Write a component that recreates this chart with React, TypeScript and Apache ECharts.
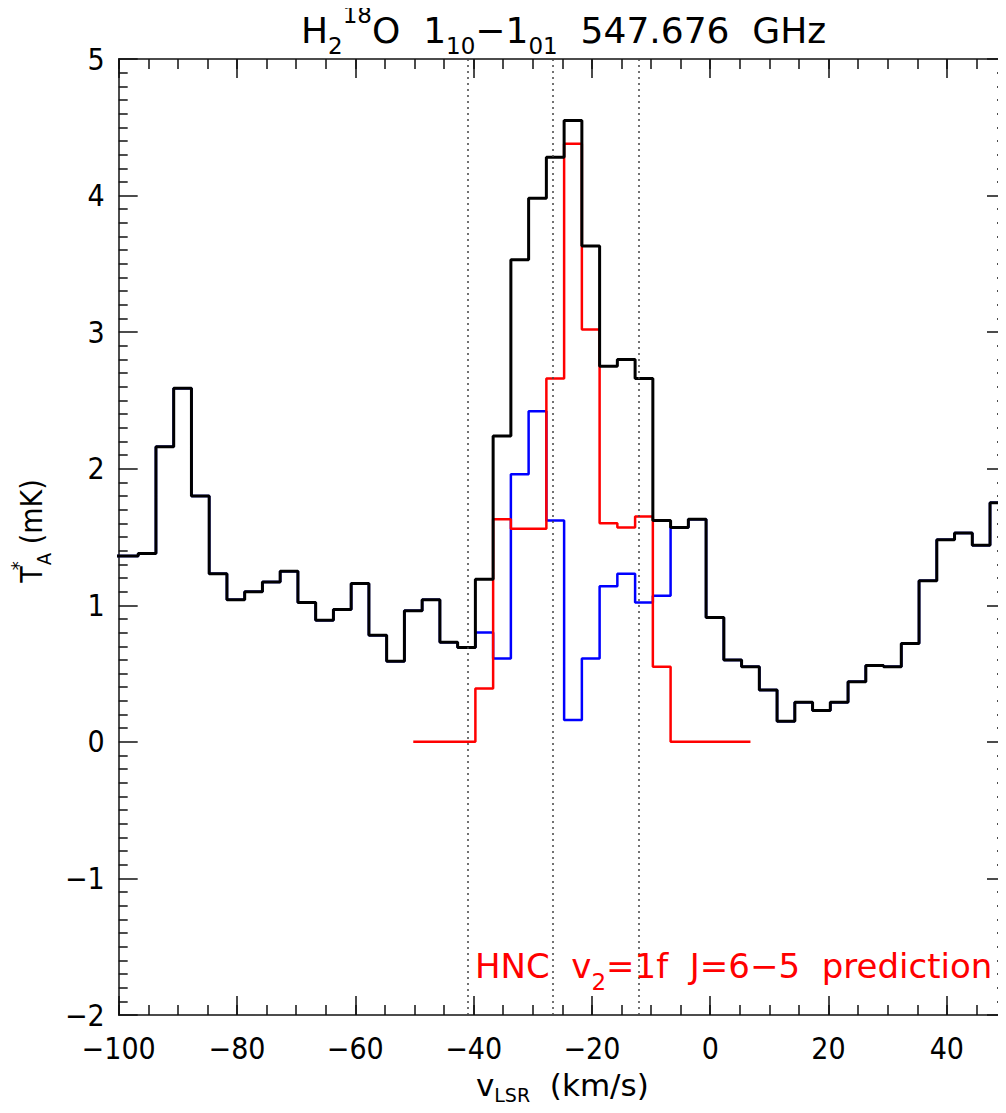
import React, { useEffect, useRef } from 'react';
import * as echarts from 'echarts';

// Channel centre velocities (km/s) of the observed spectrum
const velocity = [
  -101.2, -98.2, -95.2, -92.2, -89.2, -86.2, -83.2, -80.2, -77.2, -74.2,
  -71.2, -68.2, -65.2, -62.2, -59.2, -56.2, -53.2, -50.2, -47.2, -44.2,
  -41.2, -38.2, -35.2, -32.2, -29.2, -26.2, -23.2, -20.2, -17.2, -14.2,
  -11.2, -8.2, -5.2, -2.2, 0.8, 3.8, 6.8, 9.8, 12.8, 15.8,
  18.8, 21.8, 24.8, 27.8, 30.8, 33.8, 36.8, 39.8, 42.8, 45.8,
  48.8, 51.8,
];

// Observed H2 18O spectrum (black), mK
const observed = [
  1.36, 1.36, 1.38, 2.16, 2.59, 1.80, 1.23, 1.04, 1.10, 1.17,
  1.25, 1.02, 0.89, 0.97, 1.16, 0.78, 0.59, 0.96, 1.04, 0.73,
  0.69, 1.19, 2.24, 3.53, 3.98, 4.28, 4.55, 3.63, 2.75, 2.80,
  2.66, 1.62, 1.57, 1.63, 0.91, 0.60, 0.55, 0.38, 0.15, 0.29,
  0.23, 0.29, 0.44, 0.56, 0.55, 0.72, 1.18, 1.48, 1.53, 1.44,
  1.75, 1.75,
];

// Spectrum after removing the HNC prediction (blue), mK
const residual = [
  1.36, 1.36, 1.38, 2.16, 2.59, 1.80, 1.23, 1.04, 1.10, 1.17,
  1.25, 1.02, 0.89, 0.97, 1.16, 0.78, 0.59, 0.96, 1.04, 0.73,
  0.69, 0.80, 0.61, 1.96, 2.42, 1.62, 0.16, 0.61, 1.14, 1.23,
  1.02, 1.07, 1.57, 1.63, 0.91, 0.60, 0.55, 0.38, 0.15, 0.29,
  0.23, 0.29, 0.44, 0.56, 0.55, 0.72, 1.18, 1.48, 1.53, 1.44,
  1.75, 1.75,
];

// HNC v2=1f J=6-5 prediction (red)
const hncVelocity = [
  -50.2, -47.2, -44.2, -41.2, -38.2, -35.2, -32.2, -29.2, -26.2, -23.2,
  -20.2, -17.2, -14.2, -11.2, -8.2, -5.2, -2.2, 0.8, 3.8, 6.8,
];
const hncPrediction = [
  0, 0, 0, 0, 0.39, 1.63, 1.56, 1.56, 2.66, 4.38,
  3.02, 1.60, 1.57, 1.65, 0.55, 0, 0, 0, 0, 0,
];

// Dotted reference velocities
const componentVelocities = [-41.0, -26.56, -12.1];

const X_MIN = -100;
const X_MAX = 50;
const Y_MIN = -2;
const Y_MAX = 5;

const NARROW = "'DejaVu Sans Condensed', 'DejaVu Sans', sans-serif";
const WIDE = "'DejaVu Sans', sans-serif";
const MINUS = '\u2212';

function App() {
  const ref = useRef<HTMLDivElement>(null);

  useEffect(() => {
    if (!ref.current) return;
    const chart = echarts.init(ref.current, null, { renderer: 'svg' });

    const axisCol = '#111';
    const tickStyle = { color: axisCol, width: 1.5 };

    const xCommon = {
      type: 'value' as const,
      min: X_MIN,
      max: X_MAX,
      splitLine: { show: false },
    };
    const yCommon = {
      type: 'value' as const,
      min: Y_MIN,
      max: Y_MAX,
      interval: 1,
      splitLine: { show: false },
    };

    const txt = (font: string, size: number, lh: number, va: string, color = '#000') => ({
      fontSize: size,
      fontFamily: font,
      fontWeight: 'normal',
      color,
      lineHeight: lh,
      verticalAlign: va,
    });

    const option: any = {
      animation: false,
      backgroundColor: '#fff',
      title: [
        {
          text: '{m|H}{sub|2}{sup|18}{m|O  1}{sub|10}{m|\u22121}{sub|01}{m|  547.676  GHz}',
          left: 301,
          top: 3,
          padding: 0,
          textStyle: {
            fontWeight: 'normal',
            rich: {
              m: txt(WIDE, 36, 54, 'middle'),
              sub: txt(WIDE, 23, 23, 'bottom'),
              sup: txt(WIDE, 23, 23, 'top'),
            },
          },
        },
        {
          text: '{r|HNC  v}{rs|2}{r|=1f  J=6\u22125  prediction}',
          left: 475,
          top: 939,
          padding: 0,
          textStyle: {
            fontWeight: 'normal',
            rich: {
              r: txt(WIDE, 34, 54, 'middle', '#ff0000'),
              rs: txt(WIDE, 23, 23, 'bottom', '#ff0000'),
            },
          },
        },
      ],
      grid: { left: 116.5, right: -6, top: 59, bottom: 98, containLabel: false },
      xAxis: [
        {
          ...xCommon,
          position: 'bottom',
          interval: 20,
          axisLine: { show: true, onZero: false, lineStyle: { color: axisCol, width: 1.5 } },
          axisTick: { show: true, inside: true, length: 19, lineStyle: tickStyle },
          axisLabel: {
            show: true,
            margin: 18,
            fontSize: 30,
            fontFamily: NARROW,
            color: '#000',
            showMaxLabel: false,
            formatter: (v: number) => (Math.abs(v % 20) < 1e-6 ? String(v).replace('-', MINUS) : ''),
          },
          name: '{m|v}{sub|LSR}{m|  (km/s)}',
          nameLocation: 'middle',
          nameGap: 51,
          nameTextStyle: {
            rich: {
              m: txt(WIDE, 31, 38, 'middle'),
              sub: txt(WIDE, 19, 19, 'bottom'),
            },
          },
        },
        {
          ...xCommon,
          position: 'bottom',
          interval: 5,
          axisLine: { show: false, onZero: false },
          axisTick: { show: true, inside: true, length: 10, lineStyle: tickStyle },
          axisLabel: { show: false },
        },
        {
          ...xCommon,
          position: 'top',
          interval: 20,
          axisLine: { show: true, onZero: false, lineStyle: { color: axisCol, width: 1.5 } },
          axisTick: { show: true, inside: true, length: 19, lineStyle: tickStyle },
          axisLabel: { show: false },
        },
        {
          ...xCommon,
          position: 'top',
          interval: 5,
          axisLine: { show: false, onZero: false },
          axisTick: { show: true, inside: true, length: 10, lineStyle: tickStyle },
          axisLabel: { show: false },
        },
      ],
      yAxis: [
        {
          ...yCommon,
          position: 'left',
          axisLine: { show: true, onZero: false, lineStyle: { color: axisCol, width: 1.5 } },
          axisTick: { show: true, inside: true, length: 19, lineStyle: tickStyle },
          minorTick: { show: true, splitNumber: 10, length: 9, lineStyle: tickStyle },
          axisLabel: {
            show: true,
            margin: 14,
            fontSize: 30,
            fontFamily: NARROW,
            color: '#000',
            formatter: (v: number) => String(v).replace('-', MINUS),
          },
          name: '{m|T}{sup|*}{sub|A}{m| (mK)}',
          nameLocation: 'middle',
          nameRotate: 90,
          nameGap: 64,
          nameTextStyle: {
            padding: [0, 0, 0, 12],
            rich: {
              m: txt(NARROW, 30, 46, 'middle'),
              sup: { ...txt(NARROW, 20, 20, 'top'), width: 1 },
              sub: txt(NARROW, 20, 20, 'bottom'),
            },
          },
        },
        {
          ...yCommon,
          position: 'right',
          axisLine: { show: true, onZero: false, lineStyle: { color: axisCol, width: 1.5 } },
          axisTick: { show: true, inside: true, length: 19, lineStyle: tickStyle },
          minorTick: { show: true, splitNumber: 10, length: 9, lineStyle: tickStyle },
          axisLabel: { show: false },
        },
      ],
      series: [
        {
          name: 'residual',
          type: 'line',
          step: 'middle',
          xAxisIndex: 0,
          yAxisIndex: 0,
          symbol: 'none',
          clip: true,
          data: velocity.map((v, i) => [v, residual[i]]),
          lineStyle: { color: '#0000ff', width: 2.5 },
        },
        {
          name: 'HNC prediction',
          type: 'line',
          step: 'middle',
          xAxisIndex: 0,
          yAxisIndex: 0,
          symbol: 'none',
          clip: true,
          data: hncVelocity.map((v, i) => [v, hncPrediction[i]]),
          lineStyle: { color: '#ff0000', width: 2.5 },
        },
        {
          name: 'observed',
          type: 'line',
          step: 'middle',
          xAxisIndex: 0,
          yAxisIndex: 0,
          symbol: 'none',
          clip: true,
          data: velocity.map((v, i) => [v, observed[i]]),
          lineStyle: { color: '#000000', width: 3 },
          markLine: {
            silent: true,
            symbol: ['none', 'none'],
            label: { show: false },
            lineStyle: { color: '#444', width: 1.5, type: [2, 4] },
            data: componentVelocities.map((v) => ({ xAxis: v })),
          },
        },
      ],
    };

    chart.setOption(option);
    return () => chart.dispose();
  }, []);

  return <div ref={ref} style={{ width: 1006, height: 1113, margin: -8, overflow: 'hidden' }} />;
}

export default App;
